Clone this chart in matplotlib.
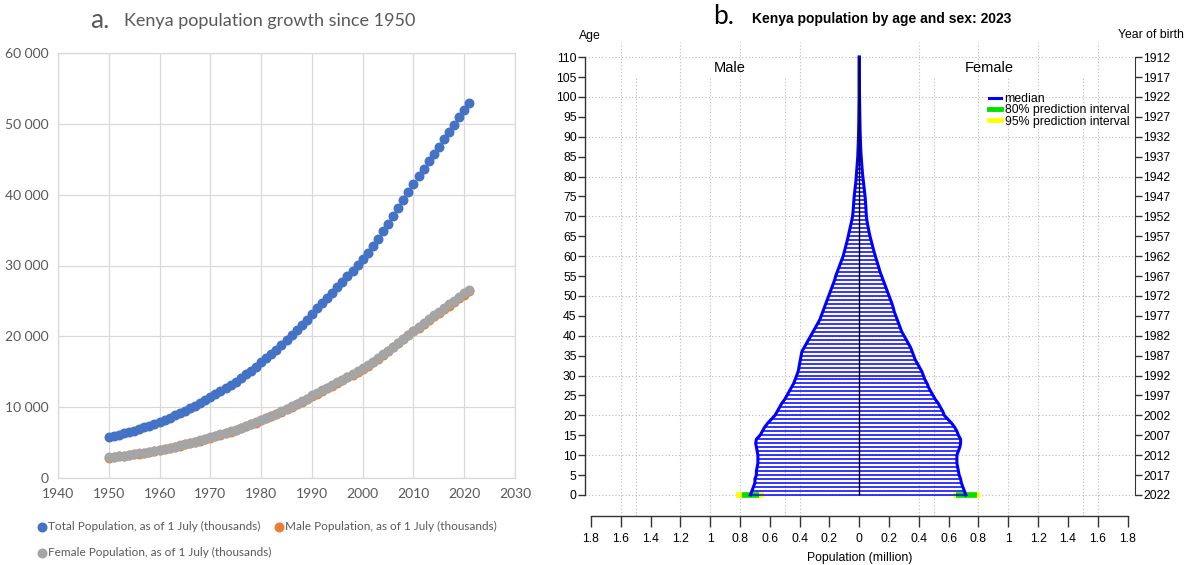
import numpy as np
import matplotlib
matplotlib.use("Agg")
import matplotlib.pyplot as plt
from matplotlib.ticker import FuncFormatter

# ---- panel a: Kenya population since 1950 (thousands)
years = list(range(1950, 2022))
total_pop = [5800, 5960, 6130, 6310, 6500, 6700, 6915, 7140, 7380, 7640,
             7920, 8220, 8530, 8850, 9180, 9520, 9870, 10230, 10610, 11000,
             11400, 11810, 12230, 12670, 13130, 13610, 14110, 14630, 15170, 15730,
             16310, 16900, 17510, 18140, 18790, 19460, 20150, 20860, 21590, 22370,
             23200, 23930, 24650, 25380, 26140, 26920, 27700, 28480, 29260, 30050,
             30850, 31800, 32780, 33790, 34830, 35900, 37010, 38130, 39250, 40380,
             41500, 42600, 43680, 44740, 45780, 46800, 47830, 48860, 49900, 50940,
             51970, 53000]
male_pop = [2880, 2960, 3045, 3135, 3230, 3330, 3437, 3550, 3670, 3800,
            3940, 4090, 4245, 4405, 4570, 4740, 4915, 5095, 5285, 5480,
            5670, 5875, 6085, 6305, 6535, 6775, 7025, 7285, 7555, 7835,
            8125, 8420, 8725, 9040, 9365, 9700, 10045, 10400, 10765, 11155,
            11550, 11915, 12275, 12640, 13020, 13410, 13800, 14190, 14580, 14975,
            15375, 15850, 16340, 16845, 17365, 17900, 18455, 19015, 19575, 20140,
            20690, 21240, 21780, 22310, 22825, 23330, 23840, 24350, 24865, 25380,
            25885, 26400]
female_pop = [2920, 3000, 3085, 3175, 3270, 3370, 3478, 3590, 3710, 3840,
              3980, 4130, 4285, 4445, 4610, 4780, 4955, 5135, 5325, 5520,
              5730, 5935, 6145, 6365, 6595, 6835, 7085, 7345, 7615, 7895,
              8185, 8480, 8785, 9100, 9425, 9760, 10105, 10460, 10825, 11215,
              11650, 12015, 12375, 12740, 13120, 13510, 13900, 14290, 14680, 15075,
              15475, 15950, 16440, 16945, 17465, 18000, 18555, 19115, 19675, 20240,
              20810, 21360, 21900, 22430, 22955, 23470, 23990, 24510, 25035, 25560,
              26085, 26600]

# ---- panel b: 2023 population by single year of age (millions)
ages = list(range(0, 111))
male_2023 = [0.73, 0.72, 0.71, 0.70, 0.70, 0.69, 0.69, 0.685, 0.68, 0.68,
             0.68, 0.685, 0.69, 0.695, 0.69, 0.665, 0.65, 0.635, 0.615, 0.59,
             0.565, 0.55, 0.535, 0.52, 0.50, 0.485, 0.47, 0.455, 0.44, 0.43,
             0.42, 0.41, 0.405, 0.40, 0.395, 0.39, 0.385, 0.37, 0.355, 0.34,
             0.325, 0.31, 0.295, 0.28, 0.265, 0.255, 0.245, 0.235, 0.225, 0.215,
             0.205, 0.195, 0.185, 0.175, 0.165, 0.158, 0.148, 0.138, 0.128, 0.118,
             0.108, 0.101, 0.094, 0.087, 0.080, 0.074, 0.068, 0.062, 0.056, 0.050,
             0.045, 0.042, 0.040, 0.038, 0.036, 0.034, 0.031, 0.028, 0.025, 0.022,
             0.020, 0.018, 0.016, 0.014, 0.012, 0.010, 0.009, 0.008, 0.007, 0.006,
             0.005, 0.0045, 0.004, 0.0035, 0.003, 0.0027, 0.0024, 0.0021, 0.0018, 0.0015,
             0.0013, 0.0011, 0.001, 0.0009, 0.0008, 0.0007, 0.0006, 0.0005, 0.0004, 0.0003,
             0.0002]
female_2023 = [0.715, 0.705, 0.695, 0.685, 0.68, 0.67, 0.665, 0.66, 0.655, 0.655,
               0.655, 0.665, 0.675, 0.68, 0.68, 0.665, 0.655, 0.64, 0.62, 0.595,
               0.57, 0.56, 0.545, 0.53, 0.51, 0.495, 0.48, 0.465, 0.455, 0.44,
               0.43, 0.42, 0.405, 0.39, 0.375, 0.365, 0.355, 0.345, 0.33, 0.315,
               0.30, 0.285, 0.275, 0.265, 0.255, 0.245, 0.235, 0.228, 0.22, 0.21,
               0.20, 0.19, 0.18, 0.17, 0.16, 0.15, 0.14, 0.132, 0.124, 0.116,
               0.108, 0.100, 0.093, 0.086, 0.079, 0.072, 0.066, 0.061, 0.056, 0.051,
               0.048, 0.046, 0.045, 0.043, 0.041, 0.039, 0.036, 0.033, 0.030, 0.027,
               0.024, 0.021, 0.019, 0.017, 0.015, 0.013, 0.011, 0.010, 0.009, 0.008,
               0.007, 0.006, 0.0055, 0.005, 0.0045, 0.004, 0.0035, 0.003, 0.0026, 0.0022,
               0.0019, 0.0016, 0.0014, 0.0012, 0.001, 0.0008, 0.0007, 0.0006, 0.0005, 0.0004,
               0.0003]
# prediction intervals (only visible for age 0)
pi_ages = [0]
male_pi80 = [(0.67, 0.79)]
male_pi95 = [(0.64, 0.83)]
female_pi80 = [(0.65, 0.79)]
female_pi95 = [(0.63, 0.81)]

age_ticks = list(range(0, 111, 5))
birth_year_labels = ["2022", "2017", "2012", "2007", "2002", "1997", "1992", "1987",
                     "1982", "1977", "1972", "1967", "1962", "1957", "1952", "1947",
                     "1942", "1937", "1932", "1927", "1922", "1917", "1912"]
pop_ticks = [-1.8, -1.6, -1.4, -1.2, -1.0, -0.8, -0.6, -0.4, -0.2, 0,
             0.2, 0.4, 0.6, 0.8, 1.0, 1.2, 1.4, 1.6, 1.8]
pop_tick_labels = ["1.8", "1.6", "1.4", "1.2", "1", "0.8", "0.6", "0.4", "0.2", "0",
                   "0.2", "0.4", "0.6", "0.8", "1", "1.2", "1.4", "1.6", "1.8"]

GREY_TXT = "#595959"
GRID = "#D9D9D9"
EXCEL = ["Lato", "DejaVu Sans"]
NARROW = ["Liberation Sans Narrow", "Liberation Sans", "DejaVu Sans"]

W, H = 1187, 565
fig = plt.figure(figsize=(W / 100, H / 100), dpi=100)

# ================= panel a =================
ax1 = fig.add_axes([58 / W, 87 / H, 457 / W, 425 / H])
ax1.set_xlim(1940, 2030)
ax1.set_ylim(0, 60000)
ax1.set_xticks(range(1940, 2031, 10))
ax1.set_yticks(range(0, 60001, 10000))
ax1.yaxis.set_major_formatter(FuncFormatter(lambda v, p: f"{int(v):,}".replace(",", " ")))
ax1.grid(color=GRID, lw=0.9)
ax1.set_axisbelow(True)
for s in ax1.spines.values():
    s.set_color(GRID)
    s.set_linewidth(0.9)
ax1.tick_params(length=0, pad=7, labelcolor=GREY_TXT, labelsize=10)
for lab in ax1.get_xticklabels() + ax1.get_yticklabels():
    lab.set_family(EXCEL)

h_tot = ax1.scatter(years, total_pop, s=38, color="#4472C4", zorder=3,
                    label="Total Population, as of 1 July (thousands)")
h_male = ax1.scatter(years, male_pop, s=38, color="#ED7D31", zorder=3,
                     label="Male Population, as of 1 July (thousands)")
h_fem = ax1.scatter(years, female_pop, s=38, color="#A5A5A5", zorder=4,
                    label="Female Population, as of 1 July (thousands)")

leg = fig.legend(handles=[h_tot, h_fem, h_male], loc="upper left",
                 bbox_to_anchor=(34 / W, 1 - 516 / H), ncol=2, frameon=False,
                 scatterpoints=1, handlelength=0.6, handletextpad=0.2,
                 columnspacing=0.3, labelspacing=1.3, borderaxespad=0,
                 prop={"family": EXCEL, "size": 8.5})
for t in leg.get_texts():
    t.set_color(GREY_TXT)

fig.text(90 / W, 1 - 20 / H, "a.", fontsize=19, color=GREY_TXT, family=EXCEL, va="center")
fig.text(124 / W, 1 - 21 / H, "Kenya population growth since 1950", fontsize=13,
         color=GREY_TXT, family=EXCEL, va="center")

# ================= panel b =================
ax2 = fig.add_axes([585 / W, 49 / H, 550 / W, 474 / H])
ax2.set_xlim(-1.84, 1.85)
ax2.set_ylim(-5.3, 113.8)

grid_kw = dict(colors="#BBBBBB", linestyles=(0, (1, 2)), lw=0.8, zorder=0)
ax2.hlines(range(0, 111, 10), -1.84, 1.85, **grid_kw)
ax2.vlines([-1.6, -1.2, -0.8, -0.4, 0.4, 0.8, 1.2, 1.6], -5.3, 113.8, **grid_kw)
ax2.vlines([-1.5, -1.0, -0.5, 0.5, 1.0, 1.5], -5.3, 105, **grid_kw)

male_arr = np.array(male_2023)
fem_arr = np.array(female_2023)

# prediction intervals
for a, (lo, hi) in zip(pi_ages, male_pi95):
    ax2.hlines(a, -hi, -lo, colors="yellow", lw=4, zorder=2)
for a, (lo, hi) in zip(pi_ages, male_pi80):
    ax2.hlines(a, -hi, -lo, colors="#00E000", lw=4, zorder=2)
for a, (lo, hi) in zip(pi_ages, female_pi95):
    ax2.hlines(a, lo, hi, colors="yellow", lw=4, zorder=2)
for a, (lo, hi) in zip(pi_ages, female_pi80):
    ax2.hlines(a, lo, hi, colors="#00E000", lw=4, zorder=2)

ax2.hlines(ages, -male_arr, 0, colors="blue", lw=1.1, zorder=3)
ax2.hlines(ages, 0, fem_arr, colors="blue", lw=1.1, zorder=3)
ax2.plot(-male_arr, ages, color="blue", lw=2.2, zorder=4, label="median")
ax2.plot(fem_arr, ages, color="blue", lw=2.2, zorder=4)
ax2.vlines(0, 0, 110, colors="black", lw=1.0, zorder=5)

# legend handles
ax2.plot([], [], color="#00E000", lw=3.5, label="80% prediction interval")
ax2.plot([], [], color="yellow", lw=3.5, label="95% prediction interval")
lg2 = ax2.legend(loc="upper left", bbox_to_anchor=(0.725, 0.903), frameon=False,
                 handlelength=1.0, handletextpad=0.3, labelspacing=-0.05,
                 borderaxespad=0, prop={"family": NARROW, "size": 8.8})
lg2.get_lines()[0].set_linewidth(2.2)

ax2.text(-0.87, 107.3, "Male", ha="center", va="center", fontsize=10.5, family=NARROW)
ax2.text(0.87, 107.3, "Female", ha="center", va="center", fontsize=10.5, family=NARROW)

ax2.spines["top"].set_visible(False)
ax2.spines["right"].set_visible(False)
ax2.spines["left"].set_bounds(0, 110)
ax2.spines["bottom"].set_bounds(-1.8, 1.8)
for side in ["left", "bottom"]:
    ax2.spines[side].set_color("#333333")
    ax2.spines[side].set_linewidth(1.0)

ax2.set_yticks(age_ticks)
ax2.set_yticklabels([str(a) for a in age_ticks])
ax2.set_xticks(pop_ticks)
ax2.set_xticklabels(pop_tick_labels)
ax2.tick_params(axis="y", direction="out", length=5, width=1.0, color="#333333",
                pad=1, labelsize=8.8)
ax2.tick_params(axis="x", direction="out", length=8, width=1.0, color="#333333",
                pad=4, labelsize=8.8)
for lab in ax2.get_xticklabels() + ax2.get_yticklabels():
    lab.set_family(NARROW)
ax2.set_xlabel("Population (million)", fontsize=8.8, family=NARROW, labelpad=5)

ax3 = ax2.twinx()
ax3.set_ylim(ax2.get_ylim())
for side in ["top", "left", "bottom"]:
    ax3.spines[side].set_visible(False)
ax3.spines["right"].set_bounds(0, 110)
ax3.spines["right"].set_color("#333333")
ax3.set_yticks(age_ticks)
ax3.set_yticklabels(birth_year_labels)
ax3.tick_params(axis="y", direction="out", length=5, width=1.0, color="#333333",
                pad=1, labelsize=8.8)
for lab in ax3.get_yticklabels():
    lab.set_family(NARROW)

fig.text(590 / W, 1 - 36 / H, "Age", ha="center", va="center", fontsize=8.8, family=NARROW)
fig.text(1184 / W, 1 - 35 / H, "Year of birth", ha="right", va="center", fontsize=8.8,
         family=NARROW)

fig.text(724 / W, 1 - 17 / H, "b.", fontsize=19, family=EXCEL, ha="center", va="center")
fig.text(752 / W, 1 - 19 / H, "Kenya population by age and sex: 2023", fontsize=10,
         fontweight="bold", family=NARROW, va="center")

fig.savefig("out.png", dpi=100)
